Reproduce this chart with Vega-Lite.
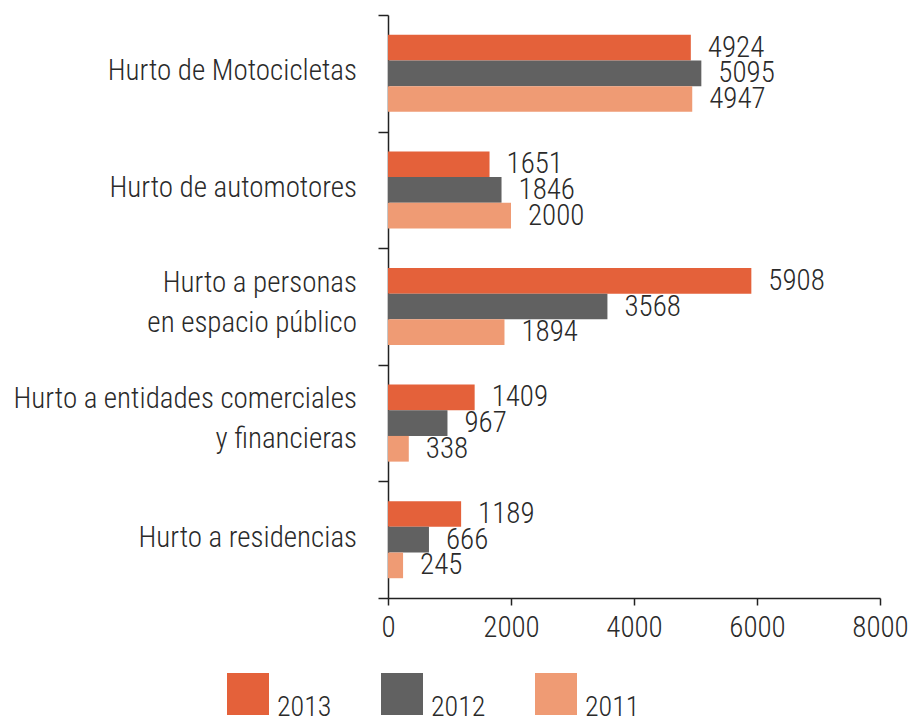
{
  "$schema": "https://vega.github.io/schema/vega-lite/v6.json",
  "width": 492,
  "height": 583,
  "autosize": "none",
  "padding": {"left": 388, "top": 15, "right": 38, "bottom": 126},
  "background": "white",
  "config": {
    "view": {"stroke": null},
    "font": "Roboto Condensed, DejaVu Sans Condensed, Roboto",
    "axis": {"labelFont": "Roboto Condensed, DejaVu Sans Condensed, Roboto", "labelFontWeight": 300, "labelColor": "#2a2a2a", "domainColor": "#222222", "tickColor": "#222222", "grid": false, "title": null},
    "legend": {"labelFont": "Roboto Condensed, DejaVu Sans Condensed, Roboto", "labelFontWeight": 300},
    "text": {"font": "Roboto Condensed, DejaVu Sans Condensed, Roboto", "fontWeight": 300}
  },
  "data": {
    "values": [
      {"cat": "Hurto de Motocicletas", "year": "2013", "v": 4924},
      {"cat": "Hurto de Motocicletas", "year": "2012", "v": 5095},
      {"cat": "Hurto de Motocicletas", "year": "2011", "v": 4947},
      {"cat": "Hurto de automotores", "year": "2013", "v": 1651},
      {"cat": "Hurto de automotores", "year": "2012", "v": 1846},
      {"cat": "Hurto de automotores", "year": "2011", "v": 2000},
      {"cat": "Hurto a personas|en espacio público", "year": "2013", "v": 5908},
      {"cat": "Hurto a personas|en espacio público", "year": "2012", "v": 3568},
      {"cat": "Hurto a personas|en espacio público", "year": "2011", "v": 1894},
      {"cat": "Hurto a entidades comerciales|y financieras", "year": "2013", "v": 1409},
      {"cat": "Hurto a entidades comerciales|y financieras", "year": "2012", "v": 967},
      {"cat": "Hurto a entidades comerciales|y financieras", "year": "2011", "v": 338},
      {"cat": "Hurto a residencias", "year": "2013", "v": 1189},
      {"cat": "Hurto a residencias", "year": "2012", "v": 666},
      {"cat": "Hurto a residencias", "year": "2011", "v": 245}
    ]
  },
  "encoding": {
    "y": {
      "field": "cat", "type": "nominal", "sort": null,
      "scale": {"paddingInner": 0, "paddingOuter": 0},
      "axis": {"tickBand": "extent", "tickSize": 10, "domainWidth": 1.5, "tickWidth": 1.5, "labels": false}
    },
    "x": {
      "field": "v", "type": "quantitative",
      "scale": {"domain": [0, 8000], "nice": false},
      "axis": {"values": [0, 2000, 4000, 6000, 8000], "tickSize": 7, "labelFontSize": 29, "labelPadding": 8, "labelFlush": false, "domainWidth": 1.5, "tickWidth": 1.5, "format": "d", "labelOverlap": false}
    }
  },
  "layer": [
    {
      "mark": {"type": "bar"},
      "encoding": {
        "yOffset": {"field": "year", "type": "nominal", "sort": ["2013", "2012", "2011"], "scale": {"paddingOuter": 0.77, "paddingInner": 0}},
        "color": {
          "field": "year", "type": "nominal",
          "scale": {"domain": ["2013", "2012", "2011"], "range": ["#E4613A", "#616161", "#EF9B74"]},
          "legend": {
            "orient": "none", "legendX": -161, "legendY": 658, "direction": "horizontal",
            "title": null, "symbolType": "square", "symbolSize": 1764, "symbolStrokeWidth": 0,
            "labelFontSize": 28, "labelColor": "#2a2a2a",
            "labelOffset": 8, "columnPadding": 49, "labelBaseline": "top", "labelOverlap": false
          }
        }
      }
    },
    {
      "mark": {"type": "text", "align": "left", "baseline": "middle", "dx": 17, "fontSize": 29, "color": "#2a2a2a"},
      "encoding": {
        "yOffset": {"field": "year", "type": "nominal", "sort": ["2013", "2012", "2011"]},
        "text": {"field": "v", "type": "quantitative", "format": "d"}
      }
    },
    {
      "transform": [{"filter": "datum.year === '2013' && indexof(datum.cat, '|') < 0"}],
      "mark": {"type": "text", "align": "right", "baseline": "middle", "dx": -31, "dy": -2, "fontSize": 29, "color": "#2a2a2a"},
      "encoding": {
        "x": {"datum": 0, "type": "quantitative"},
        "text": {"field": "cat", "type": "nominal"}
      }
    },
    {
      "transform": [{"filter": "datum.year === '2013' && indexof(datum.cat, '|') >= 0"}],
      "mark": {"type": "text", "align": "right", "baseline": "middle", "dx": -31, "dy": -24, "fontSize": 29, "lineBreak": "|", "lineHeight": 40, "color": "#2a2a2a"},
      "encoding": {
        "x": {"datum": 0, "type": "quantitative"},
        "text": {"field": "cat", "type": "nominal"}
      }
    }
  ]
}
